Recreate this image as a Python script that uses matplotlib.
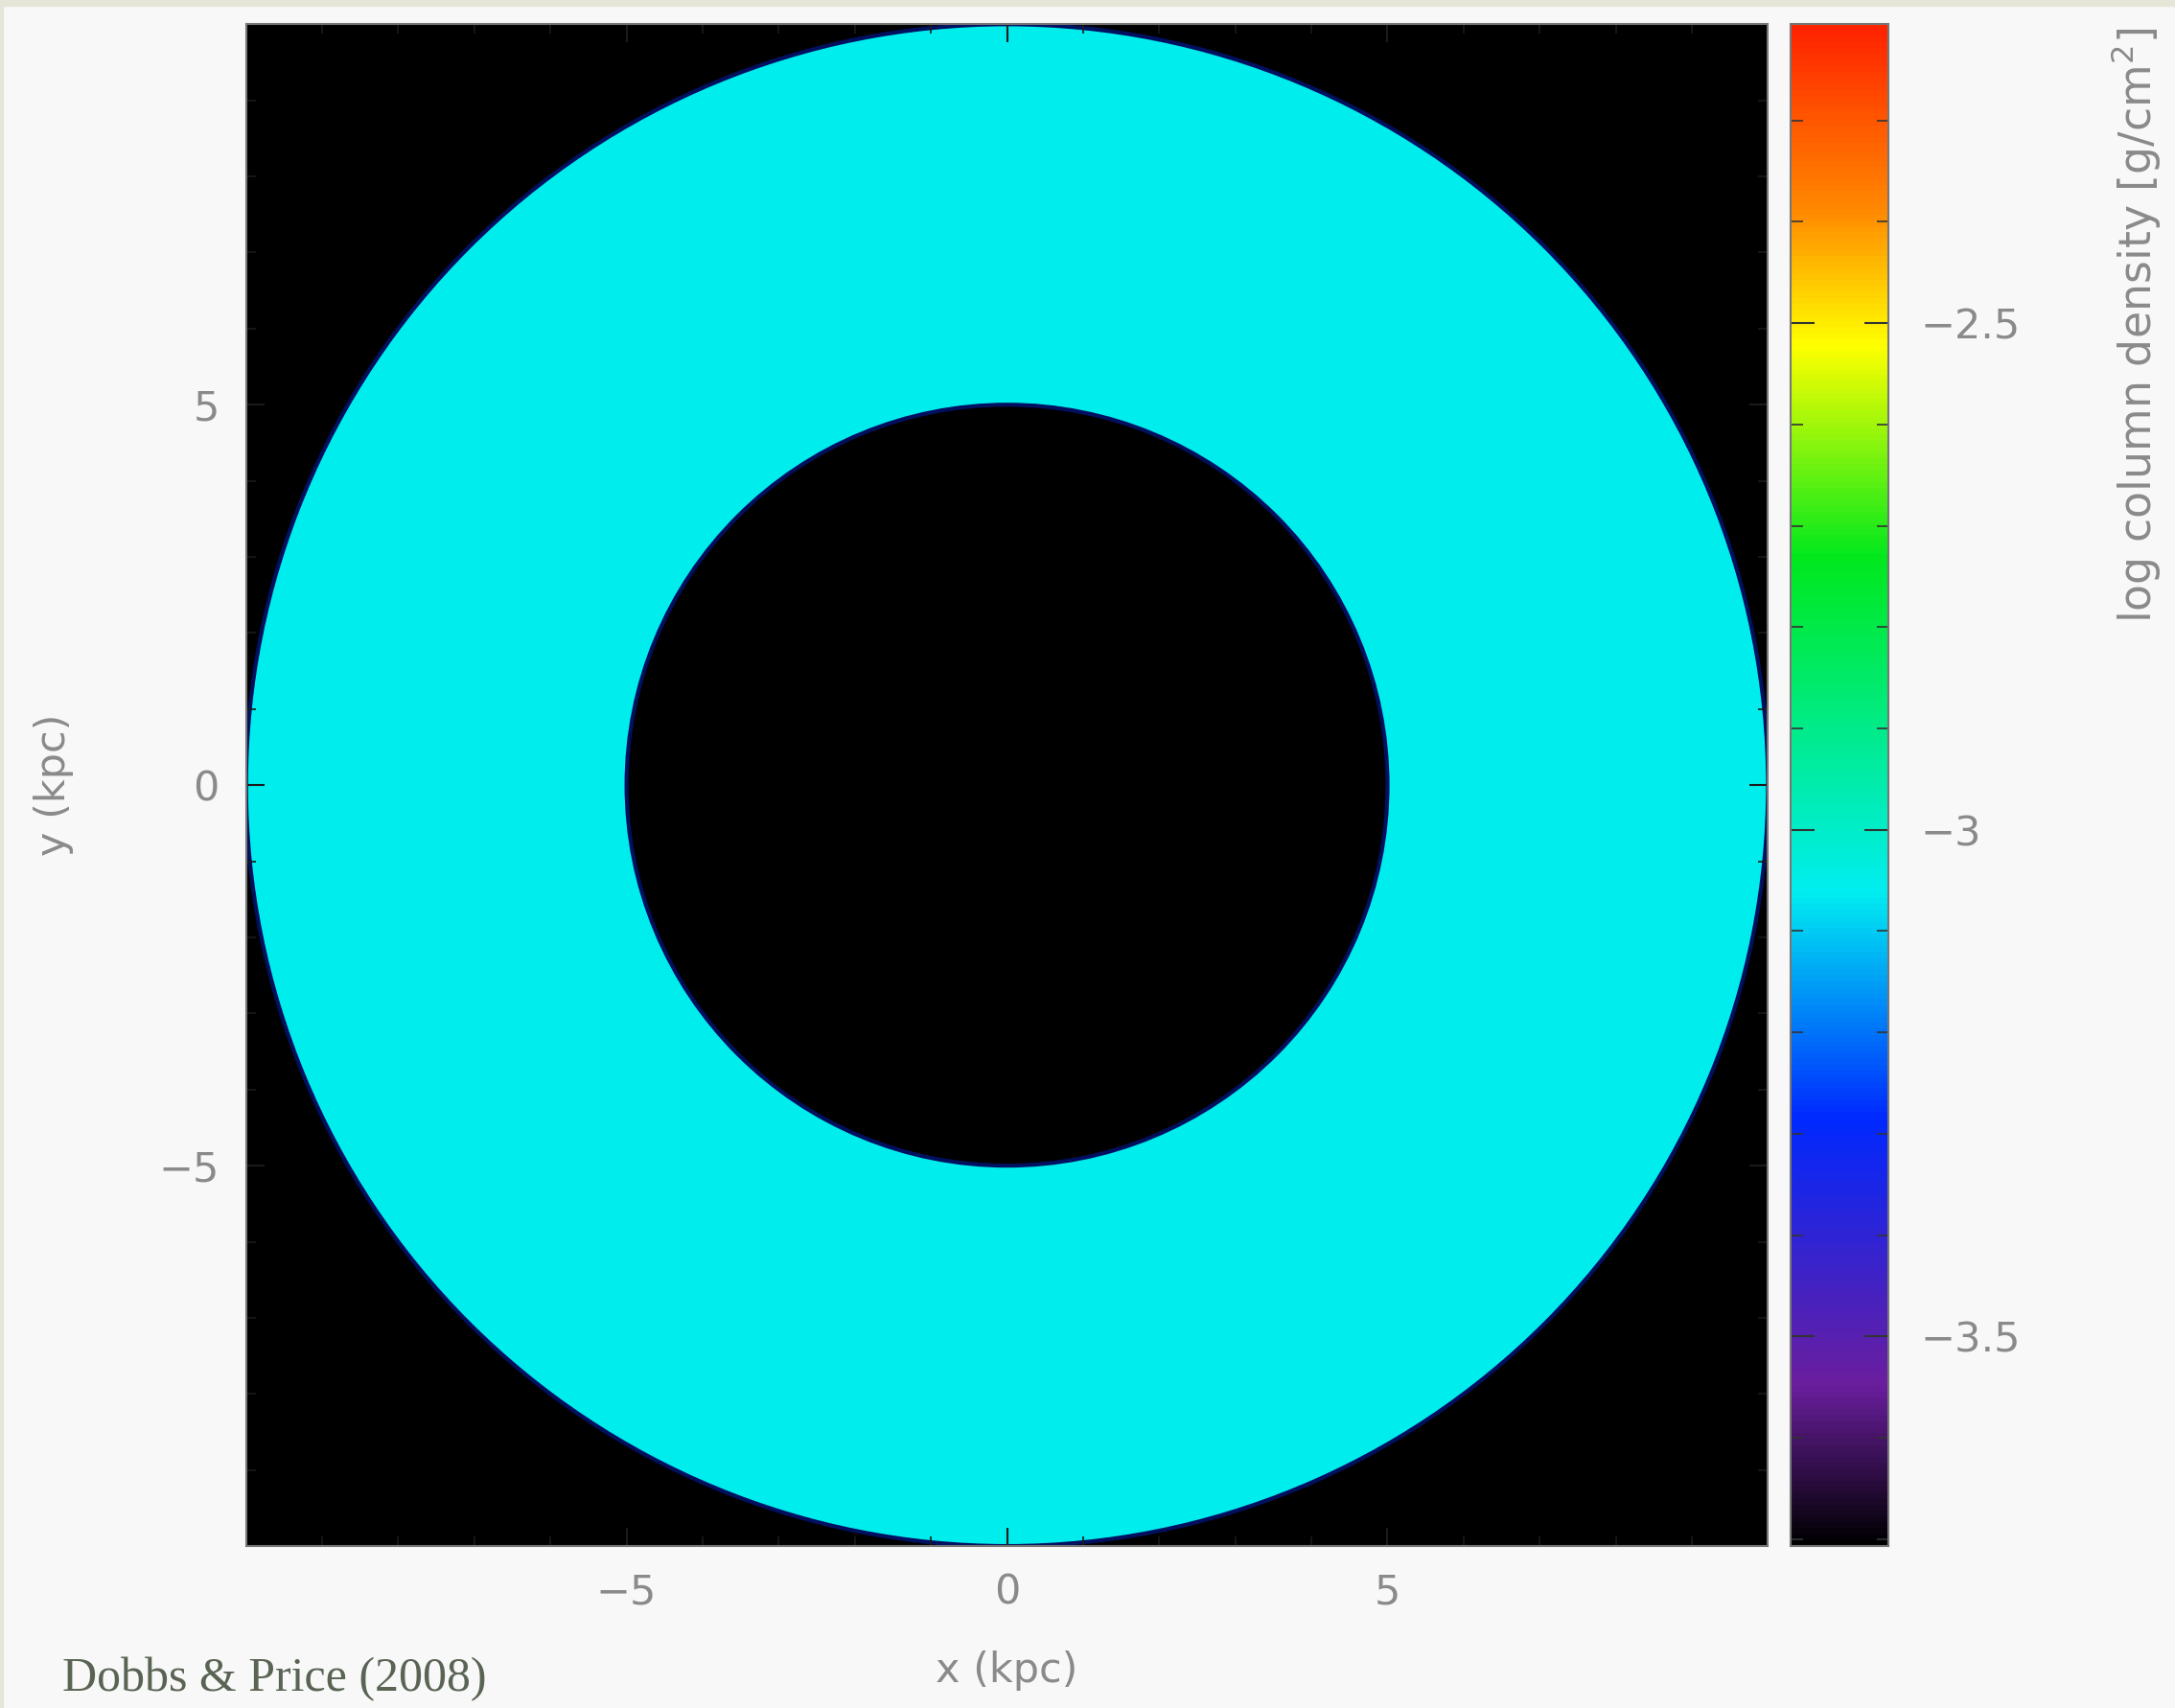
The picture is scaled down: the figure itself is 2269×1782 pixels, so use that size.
import numpy as np
import matplotlib
matplotlib.use("Agg")
import matplotlib.pyplot as plt
from matplotlib.colors import LinearSegmentedColormap
from matplotlib.patches import Circle, Rectangle
from matplotlib.ticker import MultipleLocator

# disc set-up (kpc, log g/cm^2)
r_inner = 5.0
r_outer = 10.0
disc_level = -3.06
extent = [-10, 10, -10, 10]
cbar_min, cbar_max = -3.707, -2.205
xticks = [-5, 0, 5]
yticks = [-5, 0, 5]
cbar_ticks = [-3.5, -3.0, -2.5]
cbar_ticklabels = ["\u22123.5", "\u22123", "\u22122.5"]

# splash-like colour table: black -> purple -> blue -> cyan -> green -> yellow -> red
cmap_pos = [0.0, 0.105, 0.28, 0.43, 0.65, 0.79, 0.88, 1.0]
cmap_col = ["#000000", "#6a1e9e", "#0028ff", "#00eef0", "#00e81c", "#ffff00", "#ff8800", "#ff2200"]
cmap = LinearSegmentedColormap.from_list("splash", list(zip(cmap_pos, cmap_col)))
cmap.set_bad("black")

grey = "#8a8a8a"
fs = 31

fig = plt.figure(figsize=(22.69, 17.82), dpi=100, facecolor="#f8f8f8")
fig.patches.append(Rectangle((0, 0.9965), 1, 0.0035, transform=fig.transFigure,
                             color="#e6e6d8", zorder=0))
fig.patches.append(Rectangle((0, 0), 0.0012, 1, transform=fig.transFigure,
                             color="#e6e6d8", zorder=0))

ax = fig.add_axes([0.1115, 0.0948, 0.703, 0.891])
cax = fig.add_axes([0.8233, 0.0948, 0.045, 0.891])

n = 1200
xs = np.linspace(extent[0], extent[1], n)
X, Y = np.meshgrid(xs, xs)
R = np.hypot(X, Y)
field = np.full(R.shape, disc_level)
field = np.ma.masked_where((R < r_inner) | (R > r_outer), field)

im = ax.imshow(field, origin="lower", extent=extent, cmap=cmap,
               vmin=cbar_min, vmax=cbar_max, interpolation="bilinear")
ax.set_facecolor("black")
for r in (r_inner, r_outer):
    ax.add_patch(Circle((0, 0), r, fill=False, edgecolor="#001060", linewidth=3))

ax.set_xlim(extent[0], extent[1])
ax.set_ylim(extent[2], extent[3])
ax.set_xticks(xticks)
ax.set_yticks(yticks)
ax.xaxis.set_minor_locator(MultipleLocator(1))
ax.yaxis.set_minor_locator(MultipleLocator(1))
ax.tick_params(which="both", direction="in", top=True, right=True, color="#1a1a1a",
               labelcolor=grey, labelsize=fs, pad=20)
ax.tick_params(which="major", length=14, width=1.5)
ax.tick_params(which="minor", length=7, width=1.2)
ax.set_xlabel("x (kpc)", color=grey, fontsize=fs, labelpad=28)
ax.set_ylabel("y (kpc)", color=grey, fontsize=fs, labelpad=64)
for s in ax.spines.values():
    s.set_color("#777777")
    s.set_linewidth(1.5)

cb = fig.colorbar(im, cax=cax)
cb.set_ticks(cbar_ticks)
cb.set_ticklabels(cbar_ticklabels)
cb.ax.yaxis.set_minor_locator(MultipleLocator(0.1))
cax.tick_params(which="both", direction="in", left=True, right=True, color="#333333",
                labelcolor=grey, labelsize=fs, pad=24)
cax.tick_params(which="major", length=18, width=1.5)
cax.tick_params(which="minor", length=9, width=1.2)
cb.outline.set_edgecolor("#777777")
cb.outline.set_linewidth(1.5)

fig.text(0.982, 0.984, "log column density [g/cm$^2$]", rotation=90, ha="center",
         va="top", color=grey, fontsize=33)

fig.text(0.0287, 0.004, "Dobbs & Price (2008)", family="Liberation Serif",
         color="#5a6455", fontsize=36, ha="left", va="bottom")

fig.savefig("out.png", dpi=100, facecolor=fig.get_facecolor())
